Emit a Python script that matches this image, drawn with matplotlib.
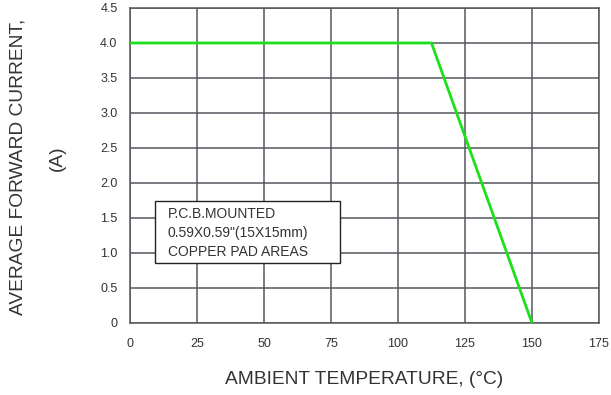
import matplotlib
matplotlib.use("Agg")
import matplotlib.pyplot as plt

plt.rcParams["font.family"] = ["Liberation Sans", "DejaVu Sans"]

# derating curve
temp = [0, 112.5, 150]
current = [4.0, 4.0, 0.0]

x_ticks = [0, 25, 50, 75, 100, 125, 150, 175]
y_ticks = [0, 0.5, 1.0, 1.5, 2.0, 2.5, 3.0, 3.5, 4.0, 4.5]
y_tick_labels = ["0", "0.5", "1.0", "1.5", "2.0", "2.5", "3.0", "3.5", "4.0", "4.5"]

note_lines = ["P.C.B.MOUNTED", "0.59X0.59\"(15X15mm)", "COPPER PAD AREAS"]

GRID = "#54575d"
TEXT = "#333333"

fig = plt.figure(figsize=(6.11, 3.95), dpi=100)
ax = fig.add_axes([0.2128, 0.1823, 0.7675, 0.7975])

ax.plot(temp, current, color="#1be01b", linewidth=2.0, zorder=4, solid_capstyle="butt")

ax.set_xlim(0, 175)
ax.set_ylim(0, 4.5)
ax.set_xticks(x_ticks)
ax.set_yticks(y_ticks)
ax.set_yticklabels(y_tick_labels)
ax.grid(True, color=GRID, linewidth=1.1)
ax.set_axisbelow(True)
for s in ax.spines.values():
    s.set_color(GRID)
    s.set_linewidth(1.1)
ax.tick_params(length=0, labelsize=9, colors=TEXT)
ax.tick_params(axis="x", pad=11)
ax.tick_params(axis="y", pad=9)

# note box
ax.add_patch(plt.Rectangle((9.3, 0.857), 69.1, 0.886, facecolor="white",
                           edgecolor="#222222", linewidth=1.0, zorder=5))
for i, line in enumerate(note_lines):
    ax.text(14.0, 1.555 - i * 0.27, line, fontsize=10, color=TEXT,
            va="center", ha="left", zorder=6)

fig.text(0.5966, 0.038, "AMBIENT TEMPERATURE, (°C)", fontsize=13.8, color=TEXT,
         ha="center", va="center")
fig.text(0.030, 0.578, "AVERAGE FORWARD CURRENT,", fontsize=13.8, color=TEXT,
         ha="center", va="center", rotation=90)
fig.text(0.094, 0.60, "(A)", fontsize=13.8, color=TEXT,
         ha="center", va="center", rotation=90)

fig.savefig("out.png", dpi=100)
